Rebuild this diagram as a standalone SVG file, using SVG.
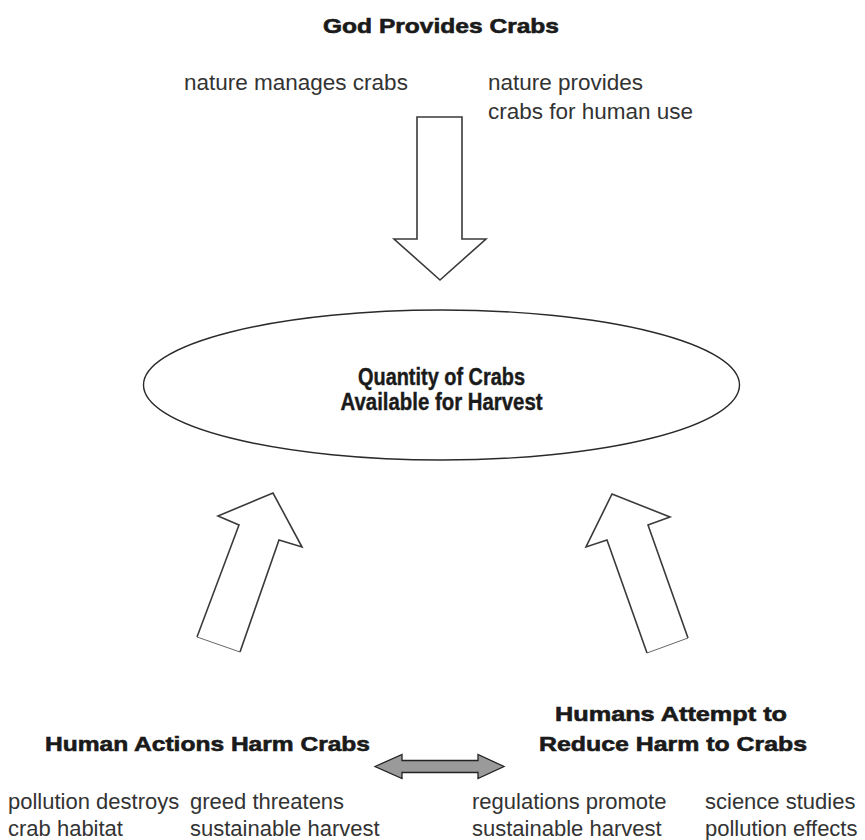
<svg xmlns="http://www.w3.org/2000/svg" width="865" height="840" viewBox="0 0 865 840">
<style>
.title{font-family:"Liberation Sans",Arial,sans-serif;font-weight:bold;font-size:21px;fill:#1a1a1a;stroke:#1a1a1a;stroke-width:0.6}
.mid{font-family:"Liberation Sans",Arial,sans-serif;font-weight:bold;font-size:23px;fill:#1a1a1a;stroke:#1a1a1a;stroke-width:0.4}
.body{font-family:"Liberation Sans",Arial,sans-serif;font-size:22px;fill:#333}
.top{font-size:22.5px}
.out{fill:#fff;stroke:#3a3a3a;stroke-width:1.6;stroke-linejoin:miter}
.tail{stroke:#555;stroke-width:0.9;fill:none}
</style>
<rect width="865" height="840" fill="#fff"/>
<g id="god-provides">
<text class="title" x="441" y="33" text-anchor="middle" textLength="236" lengthAdjust="spacingAndGlyphs">God Provides Crabs</text>
<text class="body top" x="184" y="90">nature manages crabs</text>
<text class="body top" x="488" y="90">nature provides</text>
<text class="body top" x="488" y="119">crabs for human use</text>
</g>
<g id="quantity">
<ellipse cx="441.5" cy="385" rx="298" ry="75" fill="#fff" stroke="#2a2a2a" stroke-width="1.4"/>
<text class="mid" x="441.5" y="385" text-anchor="middle" textLength="167" lengthAdjust="spacingAndGlyphs">Quantity of Crabs</text>
<text class="mid" x="441.5" y="410" text-anchor="middle" textLength="202" lengthAdjust="spacingAndGlyphs">Available for Harvest</text>
</g>
<g id="human-harm">
<text class="title" x="370" y="751" text-anchor="end" textLength="325" lengthAdjust="spacingAndGlyphs">Human Actions Harm Crabs</text>
<text class="body" x="8" y="809">pollution destroys</text>
<text class="body" x="8" y="836">crab habitat</text>
<text class="body" x="190" y="809">greed threatens</text>
<text class="body" x="190" y="836">sustainable harvest</text>
</g>
<g id="humans-reduce">
<text class="title" x="671" y="721" text-anchor="middle" textLength="232" lengthAdjust="spacingAndGlyphs">Humans Attempt to</text>
<text class="title" x="673" y="751" text-anchor="middle" textLength="268" lengthAdjust="spacingAndGlyphs">Reduce Harm to Crabs</text>
<text class="body" x="472" y="809">regulations promote</text>
<text class="body" x="472" y="836">sustainable harvest</text>
<text class="body" x="705" y="809">science studies</text>
<text class="body" x="705" y="836">pollution effects</text>
</g>
<g id="connectors">
<polygon class="out" points="417,117 462,117 462,239 486,239 440,280 394,239 417,239"/>
<path class="out" d="M197,637 L239,525 L218,516 L273,493 L302,547 L279,540 L240,652"/>
<path class="tail" d="M197,637 L240,652"/>
<path class="out" d="M688,638 L648,525 L670,517 L612,494 L586,547 L607,540 L647,653"/>
<path class="tail" d="M647,653 L688,638"/>
<polygon points="375,766.5 402,754.5 402,760.5 478,760.5 478,754.5 504,766.5 478,778.5 478,772.5 402,772.5 402,778.5" fill="#9a9a9a" stroke="#222" stroke-width="1.3"/>
</g>
</svg>
